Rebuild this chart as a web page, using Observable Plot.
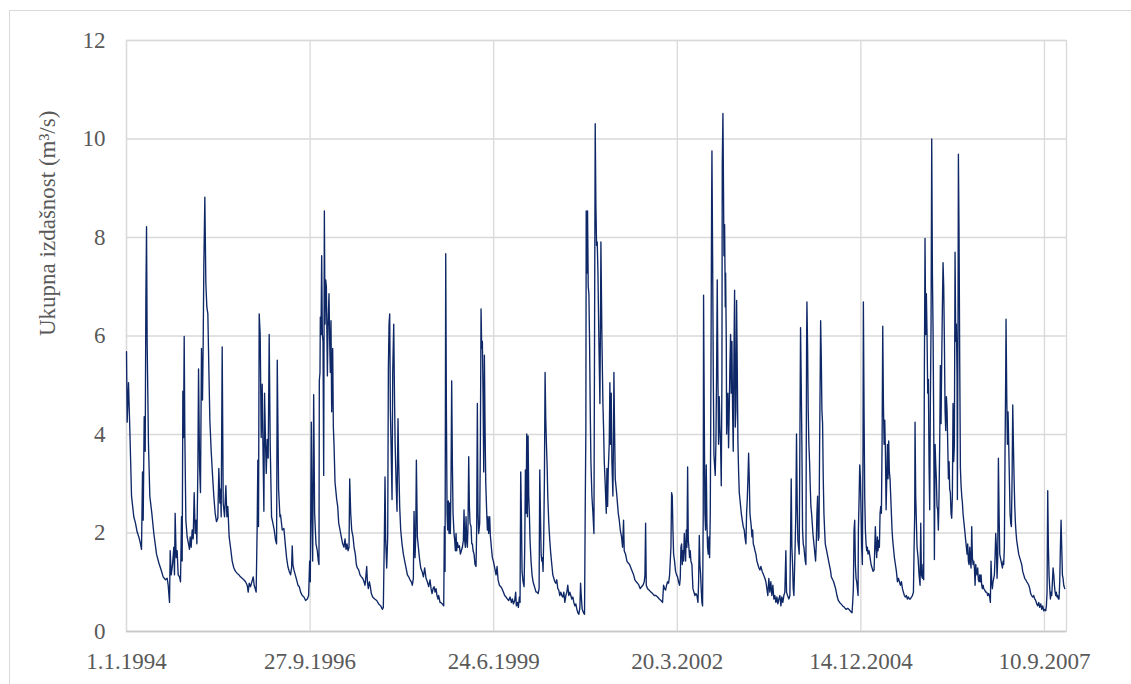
<!DOCTYPE html>
<html>
<head>
<meta charset="utf-8">
<script src="https://cdn.jsdelivr.net/npm/d3@7"></script>
<script src="https://cdn.jsdelivr.net/npm/@observablehq/plot@0.6"></script>
<style>
  html, body { margin: 0; padding: 0; background: #fff; font-family: "Liberation Serif", serif; }
  #border { position: absolute; left: 9px; top: 10px; width: 1200px; height: 800px;
            border: 1px solid #d9d9d9; pointer-events: none; }
  #chart text { font-family: "Liberation Serif", serif; }
</style>
</head>
<body>
<div id="chart"></div>
<div id="border"></div>
<script>
// Daily total discharge (m³/s); x = decimal year
const q1994 = [[1994.000,5.68],[1994.010,4.25],[1994.030,5.05],[1994.050,4.08],[1994.075,2.75],[1994.109,2.33],[1994.134,2.20],[1994.159,2.02],[1994.184,1.92],[1994.209,1.78],[1994.224,1.67],[1994.239,3.24],[1994.249,2.26],[1994.264,4.36],[1994.279,3.66],[1994.289,6.72],[1994.299,8.22],[1994.308,5.89],[1994.328,3.80],[1994.348,2.75],[1994.378,2.40],[1994.408,1.99],[1994.448,1.57],[1994.483,1.39],[1994.517,1.25],[1994.547,1.11],[1994.582,1.05],[1994.607,1.08],[1994.622,0.94],[1994.642,0.59],[1994.652,1.64],[1994.667,1.15],[1994.687,1.36],[1994.706,1.71],[1994.716,1.15],[1994.726,2.40],[1994.741,1.50],[1994.756,1.64],[1994.771,1.15],[1994.791,1.11],[1994.806,1.01],[1994.821,2.33],[1994.831,1.43],[1994.841,4.88],[1994.851,3.94],[1994.861,5.99],[1994.871,3.94],[1994.886,2.26],[1994.905,1.92],[1994.925,1.78],[1994.940,1.67],[1994.950,1.92],[1994.965,1.71],[1994.980,2.06],[1994.995,1.88]];
const q1995 = [[1995.010,2.82],[1995.025,1.99],[1995.040,2.26],[1995.050,1.78],[1995.065,3.31],[1995.075,5.33],[1995.090,3.38],[1995.104,2.82],[1995.119,5.75],[1995.134,4.70],[1995.144,5.82],[1995.154,7.42],[1995.169,8.82],[1995.184,7.07],[1995.199,6.59],[1995.214,6.45],[1995.229,5.33],[1995.244,4.29],[1995.264,3.66],[1995.284,3.17],[1995.303,2.75],[1995.323,2.40],[1995.343,2.23],[1995.363,2.30],[1995.378,3.31],[1995.393,2.61],[1995.403,2.89],[1995.413,2.33],[1995.428,5.78],[1995.443,2.61],[1995.463,2.33],[1995.483,2.96],[1995.498,2.33],[1995.512,2.54],[1995.532,1.92],[1995.552,1.71],[1995.577,1.43],[1995.602,1.29],[1995.627,1.22],[1995.652,1.18],[1995.677,1.15],[1995.701,1.11],[1995.726,1.08],[1995.751,1.05],[1995.776,1.01],[1995.801,0.94],[1995.816,0.80],[1995.831,0.98],[1995.851,0.91],[1995.871,1.01],[1995.891,1.11],[1995.905,0.94],[1995.920,0.87],[1995.935,0.80],[1995.950,2.13],[1995.960,3.48],[1995.970,2.13],[1995.980,6.45],[1995.995,6.03]];
const q1996 = [[1996.010,3.94],[1996.025,5.02],[1996.035,3.87],[1996.050,2.44],[1996.060,4.84],[1996.075,3.80],[1996.085,3.21],[1996.100,3.90],[1996.114,3.52],[1996.129,6.03],[1996.144,3.80],[1996.164,2.33],[1996.184,2.20],[1996.204,2.06],[1996.224,1.85],[1996.239,1.78],[1996.249,5.51],[1996.269,2.89],[1996.289,2.33],[1996.298,2.37],[1996.323,2.06],[1996.348,2.09],[1996.368,1.78],[1996.388,1.50],[1996.407,1.32],[1996.427,1.22],[1996.447,1.15],[1996.462,1.29],[1996.472,1.74],[1996.482,1.36],[1996.497,1.25],[1996.517,1.15],[1996.537,1.05],[1996.557,0.94],[1996.577,0.91],[1996.597,0.80],[1996.621,0.73],[1996.646,0.70],[1996.671,0.63],[1996.696,0.66],[1996.716,0.73],[1996.731,1.43],[1996.741,1.01],[1996.756,4.25],[1996.766,2.40],[1996.776,1.43],[1996.791,4.81],[1996.805,2.40],[1996.825,1.78],[1996.845,1.64],[1996.860,1.43],[1996.870,1.36],[1996.875,5.09],[1996.885,5.26],[1996.890,6.38],[1996.900,6.03],[1996.910,7.63],[1996.920,6.03],[1996.930,5.89],[1996.940,3.17],[1996.950,8.54],[1996.960,6.24],[1996.970,7.14],[1996.980,7.00],[1996.995,5.19]];
const q1997 = [[1997.004,6.17],[1997.019,6.86],[1997.029,5.89],[1997.039,5.26],[1997.049,6.31],[1997.059,4.46],[1997.074,5.75],[1997.084,4.15],[1997.094,3.80],[1997.109,3.03],[1997.124,2.82],[1997.134,2.68],[1997.149,2.54],[1997.164,2.20],[1997.184,2.06],[1997.203,1.92],[1997.223,1.78],[1997.243,1.71],[1997.258,1.88],[1997.273,1.67],[1997.288,1.78],[1997.303,1.64],[1997.318,1.71],[1997.328,3.10],[1997.343,2.40],[1997.358,2.06],[1997.378,1.92],[1997.393,1.71],[1997.412,1.57],[1997.427,1.36],[1997.442,1.29],[1997.462,1.25],[1997.482,1.15],[1997.502,1.11],[1997.522,1.08],[1997.542,1.01],[1997.557,0.94],[1997.567,1.08],[1997.582,1.32],[1997.592,1.01],[1997.606,0.87],[1997.621,1.01],[1997.636,0.91],[1997.651,0.77],[1997.671,0.70],[1997.701,0.66],[1997.731,0.63],[1997.761,0.56],[1997.791,0.52],[1997.815,0.45],[1997.830,0.49],[1997.845,1.88],[1997.855,3.14],[1997.865,1.85],[1997.880,1.29],[1997.895,1.92],[1997.905,5.33],[1997.915,6.24],[1997.925,6.45],[1997.935,4.49],[1997.945,3.80],[1997.960,2.68],[1997.970,5.26],[1997.985,6.24],[1997.995,4.98]];
const q1998 = [[1998.005,3.87],[1998.019,3.10],[1998.034,2.44],[1998.049,4.32],[1998.059,3.45],[1998.074,2.54],[1998.089,2.06],[1998.109,1.78],[1998.129,1.57],[1998.149,1.43],[1998.169,1.29],[1998.189,1.15],[1998.208,1.11],[1998.228,1.05],[1998.248,1.01],[1998.263,0.94],[1998.278,1.08],[1998.288,2.44],[1998.303,1.50],[1998.313,1.92],[1998.323,3.48],[1998.338,1.92],[1998.353,1.71],[1998.368,1.50],[1998.388,1.29],[1998.408,1.22],[1998.428,1.11],[1998.447,1.29],[1998.467,1.08],[1998.487,1.01],[1998.507,0.91],[1998.527,1.05],[1998.542,0.87],[1998.557,0.77],[1998.572,0.87],[1998.587,0.91],[1998.602,0.80],[1998.616,0.87],[1998.631,0.73],[1998.646,0.66],[1998.656,0.73],[1998.676,0.59],[1998.686,0.59],[1998.711,0.56],[1998.731,0.52],[1998.741,2.13],[1998.751,1.22],[1998.761,7.67],[1998.771,4.49],[1998.781,2.40],[1998.790,2.06],[1998.800,2.65],[1998.810,1.99],[1998.820,2.61],[1998.830,1.99],[1998.840,3.10],[1998.850,5.09],[1998.860,3.45],[1998.870,2.40],[1998.885,1.99],[1998.895,1.85],[1998.905,1.64],[1998.915,1.99],[1998.925,1.64],[1998.935,1.81],[1998.950,1.71],[1998.965,1.74],[1998.980,1.57],[1998.994,1.64]];
const q1999 = [[1999.009,1.71],[1999.024,1.85],[1999.034,2.47],[1999.044,1.85],[1999.054,1.71],[1999.064,2.33],[1999.074,1.85],[1999.084,1.71],[1999.094,2.20],[1999.104,3.55],[1999.114,2.54],[1999.124,2.20],[1999.139,2.13],[1999.149,1.78],[1999.159,1.78],[1999.169,1.64],[1999.184,1.57],[1999.198,1.36],[1999.213,1.32],[1999.223,2.06],[1999.233,4.63],[1999.243,2.40],[1999.253,1.99],[1999.268,2.20],[1999.278,3.80],[1999.288,6.55],[1999.298,5.75],[1999.308,5.89],[1999.318,4.84],[1999.328,3.24],[1999.338,5.61],[1999.348,4.15],[1999.358,3.03],[1999.373,2.40],[1999.383,2.06],[1999.393,2.33],[1999.402,1.99],[1999.417,2.33],[1999.427,1.95],[1999.442,1.71],[1999.457,1.50],[1999.472,1.43],[1999.492,1.29],[1999.512,1.15],[1999.527,1.32],[1999.542,1.05],[1999.562,0.94],[1999.582,0.91],[1999.601,0.87],[1999.621,0.80],[1999.641,0.73],[1999.661,0.70],[1999.681,0.66],[1999.701,0.63],[1999.721,0.70],[1999.741,0.59],[1999.756,0.66],[1999.771,0.56],[1999.790,0.63],[1999.805,0.80],[1999.815,0.52],[1999.830,0.59],[1999.845,0.49],[1999.860,0.70],[1999.870,0.59],[1999.880,3.24],[1999.890,2.40],[1999.900,1.22],[1999.915,1.01],[1999.930,0.91],[1999.940,1.71],[1999.950,3.28],[1999.960,2.40],[1999.970,4.01],[1999.980,2.33],[1999.990,3.97]];
const q2000 = [[2000.000,2.75],[2000.009,2.40],[2000.019,1.85],[2000.034,1.43],[2000.049,1.15],[2000.064,1.01],[2000.079,0.94],[2000.094,0.87],[2000.109,0.80],[2000.124,0.80],[2000.139,0.77],[2000.154,0.87],[2000.164,3.28],[2000.174,2.40],[2000.184,1.57],[2000.194,1.43],[2000.203,1.50],[2000.213,1.22],[2000.223,1.92],[2000.233,3.10],[2000.243,5.26],[2000.253,4.32],[2000.263,3.80],[2000.273,3.38],[2000.283,2.75],[2000.298,2.20],[2000.313,1.85],[2000.328,1.57],[2000.343,1.36],[2000.358,1.15],[2000.373,1.08],[2000.388,1.01],[2000.402,0.98],[2000.417,1.05],[2000.432,0.87],[2000.447,0.84],[2000.462,0.73],[2000.477,0.80],[2000.492,0.73],[2000.507,0.70],[2000.522,0.80],[2000.537,0.59],[2000.552,0.73],[2000.567,0.80],[2000.581,0.94],[2000.596,0.73],[2000.611,0.80],[2000.626,0.73],[2000.641,0.66],[2000.656,0.70],[2000.671,0.59],[2000.686,0.52],[2000.701,0.56],[2000.716,0.45],[2000.731,0.38],[2000.746,0.35],[2000.761,0.49],[2000.771,0.98],[2000.781,0.73],[2000.795,0.45],[2000.815,0.38],[2000.830,0.35],[2000.840,2.40],[2000.850,4.11],[2000.855,8.54],[2000.865,7.28],[2000.875,8.54],[2000.885,7.00],[2000.895,6.86],[2000.905,5.89],[2000.915,4.49],[2000.925,3.45],[2000.940,2.75],[2000.955,2.40],[2000.970,1.99],[2000.979,5.89],[2000.989,10.31],[2000.999,8.68]];
const q2001 = [[2001.009,7.84],[2001.019,7.91],[2001.029,7.35],[2001.044,5.89],[2001.059,4.63],[2001.069,6.59],[2001.074,7.91],[2001.089,5.96],[2001.104,4.63],[2001.114,4.11],[2001.124,3.45],[2001.139,2.96],[2001.154,2.40],[2001.164,3.31],[2001.174,2.54],[2001.183,3.24],[2001.198,3.80],[2001.208,5.05],[2001.218,3.80],[2001.228,4.84],[2001.238,3.45],[2001.253,2.75],[2001.263,4.15],[2001.268,5.26],[2001.278,4.08],[2001.288,3.10],[2001.308,2.82],[2001.333,2.40],[2001.348,2.26],[2001.363,2.06],[2001.382,1.92],[2001.397,1.71],[2001.412,2.26],[2001.422,1.64],[2001.442,1.57],[2001.462,1.43],[2001.482,1.39],[2001.502,1.36],[2001.522,1.29],[2001.542,1.22],[2001.562,1.15],[2001.581,1.05],[2001.601,1.01],[2001.621,0.98],[2001.641,0.94],[2001.661,0.87],[2001.681,0.91],[2001.701,0.94],[2001.721,1.01],[2001.731,1.15],[2001.741,2.20],[2001.751,0.94],[2001.771,0.87],[2001.795,0.84],[2001.820,0.80],[2001.845,0.77],[2001.870,0.73],[2001.895,0.73],[2001.920,0.70],[2001.945,0.66],[2001.970,0.63],[2001.994,0.59]];
const q2002 = [[2002.009,0.94],[2002.024,0.87],[2002.039,0.84],[2002.054,0.94],[2002.069,1.01],[2002.084,0.98],[2002.099,1.15],[2002.109,1.43],[2002.119,1.71],[2002.129,2.82],[2002.139,2.75],[2002.149,2.06],[2002.159,1.57],[2002.173,1.43],[2002.188,1.22],[2002.203,1.15],[2002.218,1.11],[2002.233,1.01],[2002.248,0.94],[2002.258,1.08],[2002.268,1.71],[2002.278,1.78],[2002.288,1.36],[2002.298,1.64],[2002.308,1.43],[2002.318,1.99],[2002.328,1.71],[2002.338,1.43],[2002.348,2.06],[2002.358,1.71],[2002.368,3.34],[2002.378,1.85],[2002.387,1.71],[2002.397,1.50],[2002.407,1.64],[2002.417,1.43],[2002.432,1.36],[2002.447,0.87],[2002.462,0.80],[2002.477,0.73],[2002.492,0.77],[2002.507,0.73],[2002.522,0.59],[2002.532,1.01],[2002.542,1.95],[2002.552,1.36],[2002.562,1.15],[2002.571,0.87],[2002.581,0.59],[2002.591,0.52],[2002.601,2.40],[2002.606,6.83],[2002.616,4.49],[2002.626,2.40],[2002.636,2.06],[2002.646,3.38],[2002.656,2.20],[2002.666,1.71],[2002.676,1.57],[2002.686,1.92],[2002.696,1.50],[2002.706,2.40],[2002.716,5.19],[2002.726,8.68],[2002.731,9.76],[2002.741,7.63],[2002.751,5.19],[2002.761,3.59],[2002.770,3.38],[2002.780,3.17],[2002.790,3.80],[2002.800,5.19],[2002.810,7.14],[2002.820,5.19],[2002.830,3.80],[2002.840,4.77],[2002.850,4.15],[2002.860,3.80],[2002.870,2.96],[2002.880,5.19],[2002.885,9.51],[2002.895,10.52],[2002.905,8.68],[2002.910,7.63],[2002.920,8.26],[2002.930,6.59],[2002.935,7.28],[2002.945,5.89],[2002.950,4.01],[2002.960,4.49],[2002.969,4.84],[2002.979,3.73],[2002.989,4.49],[2002.999,5.40]];
const q2003 = [[2003.009,6.03],[2003.019,4.84],[2003.029,5.89],[2003.039,4.49],[2003.049,3.66],[2003.059,5.61],[2003.069,6.93],[2003.079,4.15],[2003.089,4.49],[2003.099,6.72],[2003.109,5.33],[2003.119,3.80],[2003.129,3.24],[2003.139,2.82],[2003.149,2.68],[2003.159,2.54],[2003.169,2.40],[2003.183,2.26],[2003.198,2.13],[2003.213,2.06],[2003.223,1.92],[2003.238,1.78],[2003.248,2.40],[2003.258,2.68],[2003.268,3.10],[2003.278,3.62],[2003.288,3.10],[2003.298,2.40],[2003.308,2.26],[2003.318,2.13],[2003.328,1.92],[2003.338,2.06],[2003.348,1.78],[2003.363,1.71],[2003.373,1.64],[2003.387,1.57],[2003.402,1.43],[2003.417,1.36],[2003.432,1.29],[2003.447,1.25],[2003.461,1.32],[2003.481,1.22],[2003.501,1.15],[2003.521,1.08],[2003.536,1.01],[2003.551,0.87],[2003.565,0.73],[2003.580,1.08],[2003.595,0.80],[2003.610,1.01],[2003.625,0.73],[2003.640,0.94],[2003.655,0.66],[2003.670,0.73],[2003.685,0.59],[2003.700,0.70],[2003.715,0.56],[2003.730,0.66],[2003.745,0.73],[2003.760,0.52],[2003.774,0.70],[2003.789,0.59],[2003.804,0.73],[2003.819,0.80],[2003.834,1.64],[2003.844,0.80],[2003.859,0.73],[2003.879,0.66],[2003.894,0.73],[2003.904,1.85],[2003.914,3.10],[2003.924,1.71],[2003.934,1.36],[2003.944,0.87],[2003.954,0.73],[2003.963,1.22],[2003.973,1.78],[2003.983,2.40],[2003.993,4.01]];
const q2004 = [[2004.003,2.61],[2004.013,1.85],[2004.023,1.71],[2004.033,1.57],[2004.043,3.80],[2004.053,6.17],[2004.063,5.05],[2004.073,3.80],[2004.083,2.06],[2004.093,1.78],[2004.103,1.71],[2004.113,1.57],[2004.123,1.43],[2004.133,1.36],[2004.143,5.89],[2004.148,6.69],[2004.158,5.75],[2004.167,4.49],[2004.177,3.80],[2004.187,3.45],[2004.197,2.96],[2004.207,2.54],[2004.217,2.40],[2004.227,2.20],[2004.237,1.99],[2004.247,1.85],[2004.257,1.71],[2004.267,1.57],[2004.277,1.43],[2004.287,1.78],[2004.297,2.40],[2004.307,2.75],[2004.317,1.85],[2004.327,1.92],[2004.337,3.80],[2004.347,5.47],[2004.352,6.31],[2004.362,5.54],[2004.371,4.49],[2004.381,4.22],[2004.391,3.10],[2004.401,2.40],[2004.411,2.06],[2004.421,1.78],[2004.431,1.71],[2004.441,1.64],[2004.451,1.57],[2004.461,1.50],[2004.471,1.43],[2004.481,1.36],[2004.491,1.29],[2004.501,1.22],[2004.511,1.11],[2004.521,1.08],[2004.531,1.05],[2004.546,1.01],[2004.560,0.94],[2004.575,0.87],[2004.595,0.73],[2004.615,0.63],[2004.635,0.59],[2004.655,0.56],[2004.680,0.52],[2004.705,0.49],[2004.730,0.45],[2004.755,0.47],[2004.779,0.44],[2004.804,0.40],[2004.819,0.38],[2004.829,0.59],[2004.839,0.87],[2004.849,2.06],[2004.859,2.26],[2004.869,1.36],[2004.879,1.08],[2004.889,1.01],[2004.899,0.87],[2004.909,0.73],[2004.914,2.06],[2004.924,2.68],[2004.934,3.38],[2004.944,3.10],[2004.954,2.40],[2004.963,1.71],[2004.973,1.36],[2004.983,3.80],[2004.988,6.69],[2004.998,4.49]];
const q2005 = [[2005.008,2.75],[2005.018,2.06],[2005.028,1.78],[2005.038,1.64],[2005.048,1.71],[2005.058,1.57],[2005.073,1.64],[2005.088,1.50],[2005.103,1.36],[2005.118,1.29],[2005.133,1.22],[2005.148,1.25],[2005.158,1.71],[2005.167,2.13],[2005.177,1.71],[2005.187,1.50],[2005.197,1.92],[2005.207,1.64],[2005.217,1.85],[2005.227,1.71],[2005.237,2.40],[2005.247,2.54],[2005.257,2.40],[2005.267,3.80],[2005.277,6.20],[2005.287,4.63],[2005.297,3.80],[2005.307,4.29],[2005.317,3.66],[2005.327,2.47],[2005.337,3.10],[2005.347,3.80],[2005.356,3.10],[2005.366,3.87],[2005.376,3.24],[2005.386,3.10],[2005.396,2.75],[2005.406,2.40],[2005.416,2.06],[2005.426,1.85],[2005.436,1.71],[2005.451,1.50],[2005.466,1.36],[2005.481,1.22],[2005.496,1.01],[2005.511,1.08],[2005.526,1.01],[2005.541,0.94],[2005.556,1.01],[2005.571,0.87],[2005.585,0.80],[2005.600,0.73],[2005.615,0.70],[2005.630,0.73],[2005.645,0.66],[2005.660,0.70],[2005.675,0.66],[2005.690,0.66],[2005.705,0.70],[2005.720,0.73],[2005.735,0.80],[2005.745,1.71],[2005.754,2.40],[2005.759,4.25],[2005.769,2.75],[2005.789,1.71],[2005.804,1.50],[2005.819,1.15],[2005.834,0.94],[2005.844,2.20],[2005.854,1.15],[2005.869,1.08],[2005.878,1.36],[2005.888,1.05],[2005.898,5.19],[2005.908,7.98],[2005.918,6.03],[2005.928,6.86],[2005.938,6.03],[2005.948,4.84],[2005.958,5.12],[2005.968,3.38],[2005.978,2.47],[2005.988,4.70],[2005.998,6.24]];
const q2006 = [[2006.008,10.00],[2006.018,7.28],[2006.028,6.10],[2006.038,4.15],[2006.048,1.46],[2006.058,3.80],[2006.068,3.38],[2006.077,3.10],[2006.087,2.54],[2006.097,2.47],[2006.107,2.06],[2006.117,2.75],[2006.127,3.80],[2006.137,5.40],[2006.147,4.22],[2006.157,5.47],[2006.167,6.59],[2006.177,7.49],[2006.187,7.00],[2006.197,5.89],[2006.207,4.49],[2006.217,4.08],[2006.227,4.77],[2006.237,4.49],[2006.247,3.80],[2006.257,3.10],[2006.267,3.45],[2006.276,2.89],[2006.286,2.82],[2006.296,2.40],[2006.306,2.30],[2006.316,2.75],[2006.326,4.63],[2006.336,3.45],[2006.346,3.80],[2006.356,7.70],[2006.366,5.89],[2006.376,6.24],[2006.386,5.19],[2006.391,2.68],[2006.401,6.59],[2006.406,9.69],[2006.416,7.98],[2006.426,5.40],[2006.436,3.31],[2006.446,2.96],[2006.456,2.75],[2006.466,2.61],[2006.475,2.40],[2006.485,2.26],[2006.495,2.13],[2006.505,1.99],[2006.515,1.85],[2006.525,1.71],[2006.535,1.57],[2006.545,1.78],[2006.555,1.43],[2006.565,1.36],[2006.575,1.71],[2006.585,1.43],[2006.595,1.29],[2006.605,2.13],[2006.615,1.50],[2006.625,1.36],[2006.635,1.43],[2006.645,1.29],[2006.655,0.94],[2006.665,1.36],[2006.674,1.22],[2006.684,1.15],[2006.694,1.29],[2006.704,1.05],[2006.714,1.01],[2006.724,1.15],[2006.734,1.01],[2006.744,1.15],[2006.754,0.94],[2006.764,0.87],[2006.774,0.94],[2006.784,0.87],[2006.799,0.84],[2006.814,0.80],[2006.829,0.80],[2006.844,0.73],[2006.859,0.77],[2006.873,0.70],[2006.883,0.59],[2006.893,1.43],[2006.903,1.01],[2006.913,0.87],[2006.923,1.01],[2006.933,1.08],[2006.943,1.15],[2006.953,1.50],[2006.963,1.99],[2006.973,1.71],[2006.983,1.08],[2006.993,1.50]];
const q2007 = [[2007.003,3.52],[2007.013,2.40],[2007.023,1.57],[2007.033,1.50],[2007.043,1.43],[2007.053,1.36],[2007.063,1.29],[2007.073,1.43],[2007.082,1.36],[2007.092,1.71],[2007.102,3.66],[2007.112,5.19],[2007.117,6.34],[2007.127,4.84],[2007.137,3.80],[2007.147,4.46],[2007.157,3.80],[2007.167,3.10],[2007.177,2.40],[2007.187,2.20],[2007.197,2.13],[2007.207,3.10],[2007.217,4.60],[2007.227,3.80],[2007.237,3.10],[2007.247,2.54],[2007.257,2.20],[2007.267,1.99],[2007.276,1.85],[2007.291,1.71],[2007.306,1.57],[2007.321,1.50],[2007.336,1.43],[2007.351,1.36],[2007.366,1.22],[2007.381,1.15],[2007.396,1.08],[2007.411,1.05],[2007.426,1.01],[2007.441,0.98],[2007.456,0.94],[2007.471,0.87],[2007.485,0.77],[2007.500,0.73],[2007.515,0.70],[2007.530,0.73],[2007.545,0.66],[2007.560,0.63],[2007.575,0.56],[2007.590,0.52],[2007.605,0.59],[2007.620,0.49],[2007.635,0.56],[2007.650,0.45],[2007.665,0.52],[2007.679,0.42],[2007.694,0.45],[2007.709,0.42],[2007.719,0.52],[2007.729,0.80],[2007.739,2.86],[2007.749,1.71],[2007.759,1.15],[2007.769,0.87],[2007.779,0.66],[2007.789,0.80],[2007.799,0.73],[2007.809,1.01],[2007.819,1.29],[2007.829,1.15],[2007.839,0.94],[2007.849,0.80],[2007.859,0.73],[2007.868,0.80],[2007.878,0.70],[2007.888,0.73],[2007.898,0.66],[2007.908,0.66],[2007.918,1.01],[2007.928,1.71],[2007.938,2.26],[2007.948,1.71],[2007.958,1.15],[2007.968,1.08],[2007.978,0.94],[2007.993,0.87]];

// Axis ticks and labels
const xTickDates = ["1994-01-01","1996-09-27","1999-06-24","2002-03-20","2004-12-14","2007-09-10"];
const xTickLabels = ["1.1.1994","27.9.1996","24.6.1999","20.3.2002","14.12.2004","10.9.2007"];
const yTicks = [0, 2, 4, 6, 8, 10, 12];
const xDomain = ["1994-01-01", "2008-01-08"];
const yDomain = [0, 12];
const yTitle = "Ukupna izdašnost (m³/s)";

function decimalYearToDate(d) {
  const y = Math.floor(d);
  const a = Date.UTC(y, 0, 1), b = Date.UTC(y + 1, 0, 1);
  return new Date(a + (d - y) * (b - a));
}
const parse = s => new Date(s + "T00:00:00Z");

const series = [q1994,q1995,q1996,q1997,q1998,q1999,q2000,q2001,q2002,q2003,q2004,q2005,q2006,q2007]
  .flat()
  .map(([t, v]) => ({date: decimalYearToDate(t), q: v}));

const tickDates = xTickDates.map(parse);
const labelByTime = new Map(tickDates.map((d, i) => [+d, xTickLabels[i]]));

const grid = "#d9d9d9";
const font = "Liberation Serif";

const chart = Plot.plot({
  width: 1131,
  height: 684,
  marginLeft: 126,
  marginRight: 65,
  marginTop: 40,
  marginBottom: 53,
  style: {fontFamily: font, fontSize: "23px", color: "#595959"},
  x: {type: "utc", domain: xDomain.map(parse)},
  y: {domain: yDomain},
  marks: [
    Plot.ruleY(yTicks, {stroke: grid, strokeWidth: 1.3}),
    Plot.ruleX(tickDates, {stroke: grid, strokeWidth: 1.3}),
    Plot.frame({stroke: grid, strokeWidth: 1.3}),
    Plot.ruleY([0], {stroke: "#c8c8c8", strokeWidth: 1.3}),
    Plot.line(series, {x: "date", y: "q", stroke: "#0e2766", strokeWidth: 1.35}),
    Plot.axisY({ticks: yTicks, tickSize: 0, tickPadding: 21, label: null, fontSize: 23, fontFamily: font}),
    Plot.axisX({ticks: tickDates, tickSize: 0, tickPadding: 21, label: null, fontSize: 23, fontFamily: font, tickFormat: d => labelByTime.get(+d)}),
    Plot.text([yTitle], {frameAnchor: "left", dx: -79, rotate: -90, fontSize: 23, fontFamily: font})
  ]
});

document.getElementById("chart").appendChild(chart);
</script>
</body>
</html>
